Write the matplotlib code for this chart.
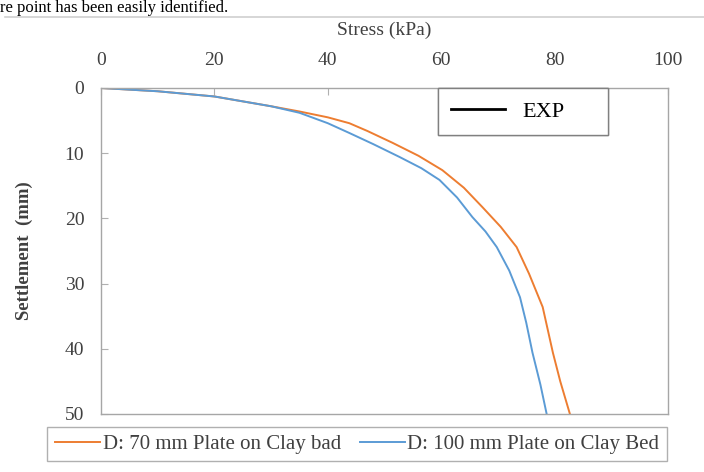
import matplotlib
matplotlib.use('Agg')
import matplotlib.pyplot as plt
from matplotlib.lines import Line2D

# stress (kPa) vs settlement (mm)
stress_70 = [0, 10, 20, 30, 35, 40, 43.8, 47, 51.4, 56, 60.2, 64, 67.3, 70.5, 73.3, 75.5, 77.9, 79.7, 81, 82.7]
settle_70 = [0, 0.5, 1.3, 2.8, 3.6, 4.5, 5.4, 6.6, 8.4, 10.4, 12.6, 15.3, 18.3, 21.3, 24.4, 28.5, 33.6, 40.6, 45, 50]

stress_100 = [0, 10, 20, 30, 35, 40, 43.8, 48, 52.7, 56.5, 59.7, 62.8, 65.5, 67.8, 69.8, 72, 73.9, 75, 76.1, 77.5, 78.6]
settle_100 = [0, 0.5, 1.3, 2.8, 3.8, 5.4, 6.9, 8.6, 10.6, 12.3, 14.1, 16.8, 19.8, 22, 24.4, 28, 32.1, 36, 40.6, 45.5, 50]

label_70 = 'D: 70 mm Plate on Clay bad'
label_100 = 'D: 100 mm Plate on Clay Bed'
x_ticks = [0, 20, 40, 60, 80, 100]
y_ticks = [0, 10, 20, 30, 40, 50]

plt.rcParams['font.family'] = ['Liberation Serif', 'DejaVu Serif']

fig = plt.figure(figsize=(7.04, 4.72), dpi=100)
W, H = 704, 472

# bit of surrounding document text at the top
fig.text(0.0, 1.0, 're point has been easily identified.', fontsize=12,
         color='black', ha='left', va='top')
fig.add_artist(Line2D([5 / W, 1], [1 - 17 / H, 1 - 17 / H], color='#d0d0d0', lw=1.2))

ax = fig.add_axes([101 / W, 1 - 414 / H, 567 / W, 326 / H])

ax.plot(stress_70, settle_70, color='#ED7D31', lw=1.4)
ax.plot(stress_100, settle_100, color='#5B9BD5', lw=1.4)

ax.set_xlim(0, 100)
ax.set_ylim(50, 0)
ax.set_xticks(x_ticks)
ax.set_yticks(y_ticks)
ax.xaxis.tick_top()
ax.xaxis.set_label_position('top')
ax.tick_params(axis='both', direction='in', length=5, color='#b0b0b0',
               labelsize=14, labelcolor='#404040')
ax.tick_params(axis='x', pad=14)
ax.tick_params(axis='y', pad=12)
for s in ax.spines.values():
    s.set_color('#a6a6a6')
    s.set_linewidth(1.0)

ax.set_xlabel('Stress (kPa)', fontsize=14, color='#404040', labelpad=12)
ax.set_ylabel('Settlement  (mm)', fontsize=13.5, color='#404040', fontweight='bold', labelpad=23)

# EXP legend box inside the plot
exp_handle = Line2D([], [], color='black', lw=2)
leg1 = ax.legend([exp_handle], ['EXP'], loc='upper left',
                 bbox_to_anchor=((438 - 101) / 567, 1 - 47 / 326, (608 - 438) / 567, 47 / 326),
                 mode='expand', fancybox=False, edgecolor='#808080', framealpha=1,
                 fontsize=16, handlelength=2.4, borderaxespad=0, borderpad=0.6)
leg1.get_frame().set_linewidth(1.0)
ax.add_artist(leg1)

# legend of the two curves below the plot
h70 = Line2D([], [], color='#ED7D31', lw=1.4)
h100 = Line2D([], [], color='#5B9BD5', lw=1.4)
leg2 = fig.legend([h70, h100], [label_70, label_100], loc='center',
                  bbox_to_anchor=(357 / W, 1 - 444 / H), ncol=2,
                  fancybox=False, edgecolor='#b0b0b0', framealpha=1,
                  fontsize=15, handlelength=2.2, handletextpad=0.1,
                  columnspacing=0.9, borderpad=0.35, borderaxespad=0)
for t in leg2.get_texts():
    t.set_color('#404040')

fig.savefig('out.png', dpi=100)
